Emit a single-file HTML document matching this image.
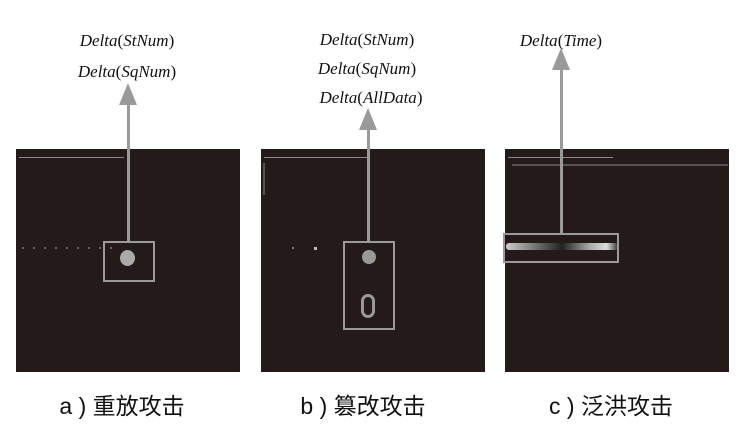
<!DOCTYPE html>
<html><head><meta charset="utf-8"><style>
body{margin:0;width:741px;height:430px;background:#fff;position:relative;overflow:hidden;font-family:"Liberation Serif",serif}
.p{position:absolute;background:#231a19;width:224px;height:223px;top:149px}
.t{position:absolute;font-style:italic;font-size:17px;color:#111;white-space:nowrap;transform:translateX(-50%)}
.t span{font-style:normal}
.c{position:absolute;top:387px;font-family:"Liberation Sans","Noto Sans CJK SC",sans-serif;font-size:23px;color:#111;transform:translateX(-50%);white-space:nowrap}
.b{position:absolute;border:2px solid #9a9a9a;box-sizing:border-box}
.l{position:absolute;background:#9a9a9a;width:3px}
.h{position:absolute;width:0;height:0;border-left:9px solid transparent;border-right:9px solid transparent;border-bottom:22px solid #9a9a9a}
.d{position:absolute;background:#888;height:1px}
</style></head><body>
<div class="p" style="left:16px"></div>
<div class="p" style="left:261px"></div>
<div class="p" style="left:505px"></div>
<div class="d" style="left:19px;top:157px;width:105px"></div>
<div class="d" style="left:264px;top:157px;width:105px"></div>
<div class="d" style="left:508px;top:157px;width:105px"></div>
<div class="d" style="left:512px;top:164px;width:216px;background:#555;height:2px"></div>
<div class="d" style="left:263px;top:163px;width:2px;height:32px;background:#555"></div>
<div style="position:absolute;left:22px;top:247px;width:90px;height:2px;background:repeating-linear-gradient(90deg,#666 0 2px,transparent 2px 11px)"></div>
<div style="position:absolute;left:292px;top:247px;width:2px;height:2px;background:#777"></div>
<div style="position:absolute;left:314px;top:247px;width:3px;height:3px;background:#bbb"></div>
<div style="position:absolute;left:120px;top:250px;width:15px;height:16px;border-radius:50%;background:#aaa"></div>
<div style="position:absolute;left:362px;top:250px;width:14px;height:14px;border-radius:50%;background:#999;border:0"></div>
<div style="position:absolute;left:361px;top:294px;width:14px;height:24px;border-radius:7px;border:3px solid #999;box-sizing:border-box"></div>
<div style="position:absolute;left:506px;top:243px;width:112px;height:7px;background:linear-gradient(90deg,#ccc,#666 30%,#222 50%,#aaa 75%,#ddd 90%,#333);border-radius:3px"></div>
<div class="b" style="left:103px;top:241px;width:52px;height:41px"></div>
<div class="b" style="left:343px;top:241px;width:52px;height:89px"></div>
<div class="b" style="left:503px;top:233px;width:116px;height:30px"></div>
<div class="l" style="left:127px;top:100px;height:142px"></div>
<div class="h" style="left:119px;top:83px"></div>
<div class="l" style="left:367px;top:126px;height:116px"></div>
<div class="h" style="left:359px;top:108px"></div>
<div class="l" style="left:560px;top:66px;height:168px"></div>
<div class="h" style="left:552px;top:48px"></div>
<div class="t" style="left:127px;top:31px">Delta<span>(</span>StNum<span>)</span></div>
<div class="t" style="left:127px;top:62px">Delta<span>(</span>SqNum<span>)</span></div>
<div class="t" style="left:367px;top:30px">Delta<span>(</span>StNum<span>)</span></div>
<div class="t" style="left:367px;top:59px">Delta<span>(</span>SqNum<span>)</span></div>
<div class="t" style="left:371px;top:88px">Delta<span>(</span>AllData<span>)</span></div>
<div class="t" style="left:561px;top:31px">Delta<span>(</span>Time<span>)</span></div>
<div class="c" style="left:122px">a ) 重放攻击</div>
<div class="c" style="left:363px">b ) 篡改攻击</div>
<div class="c" style="left:611px">c ) 泛洪攻击</div>
</body></html>
